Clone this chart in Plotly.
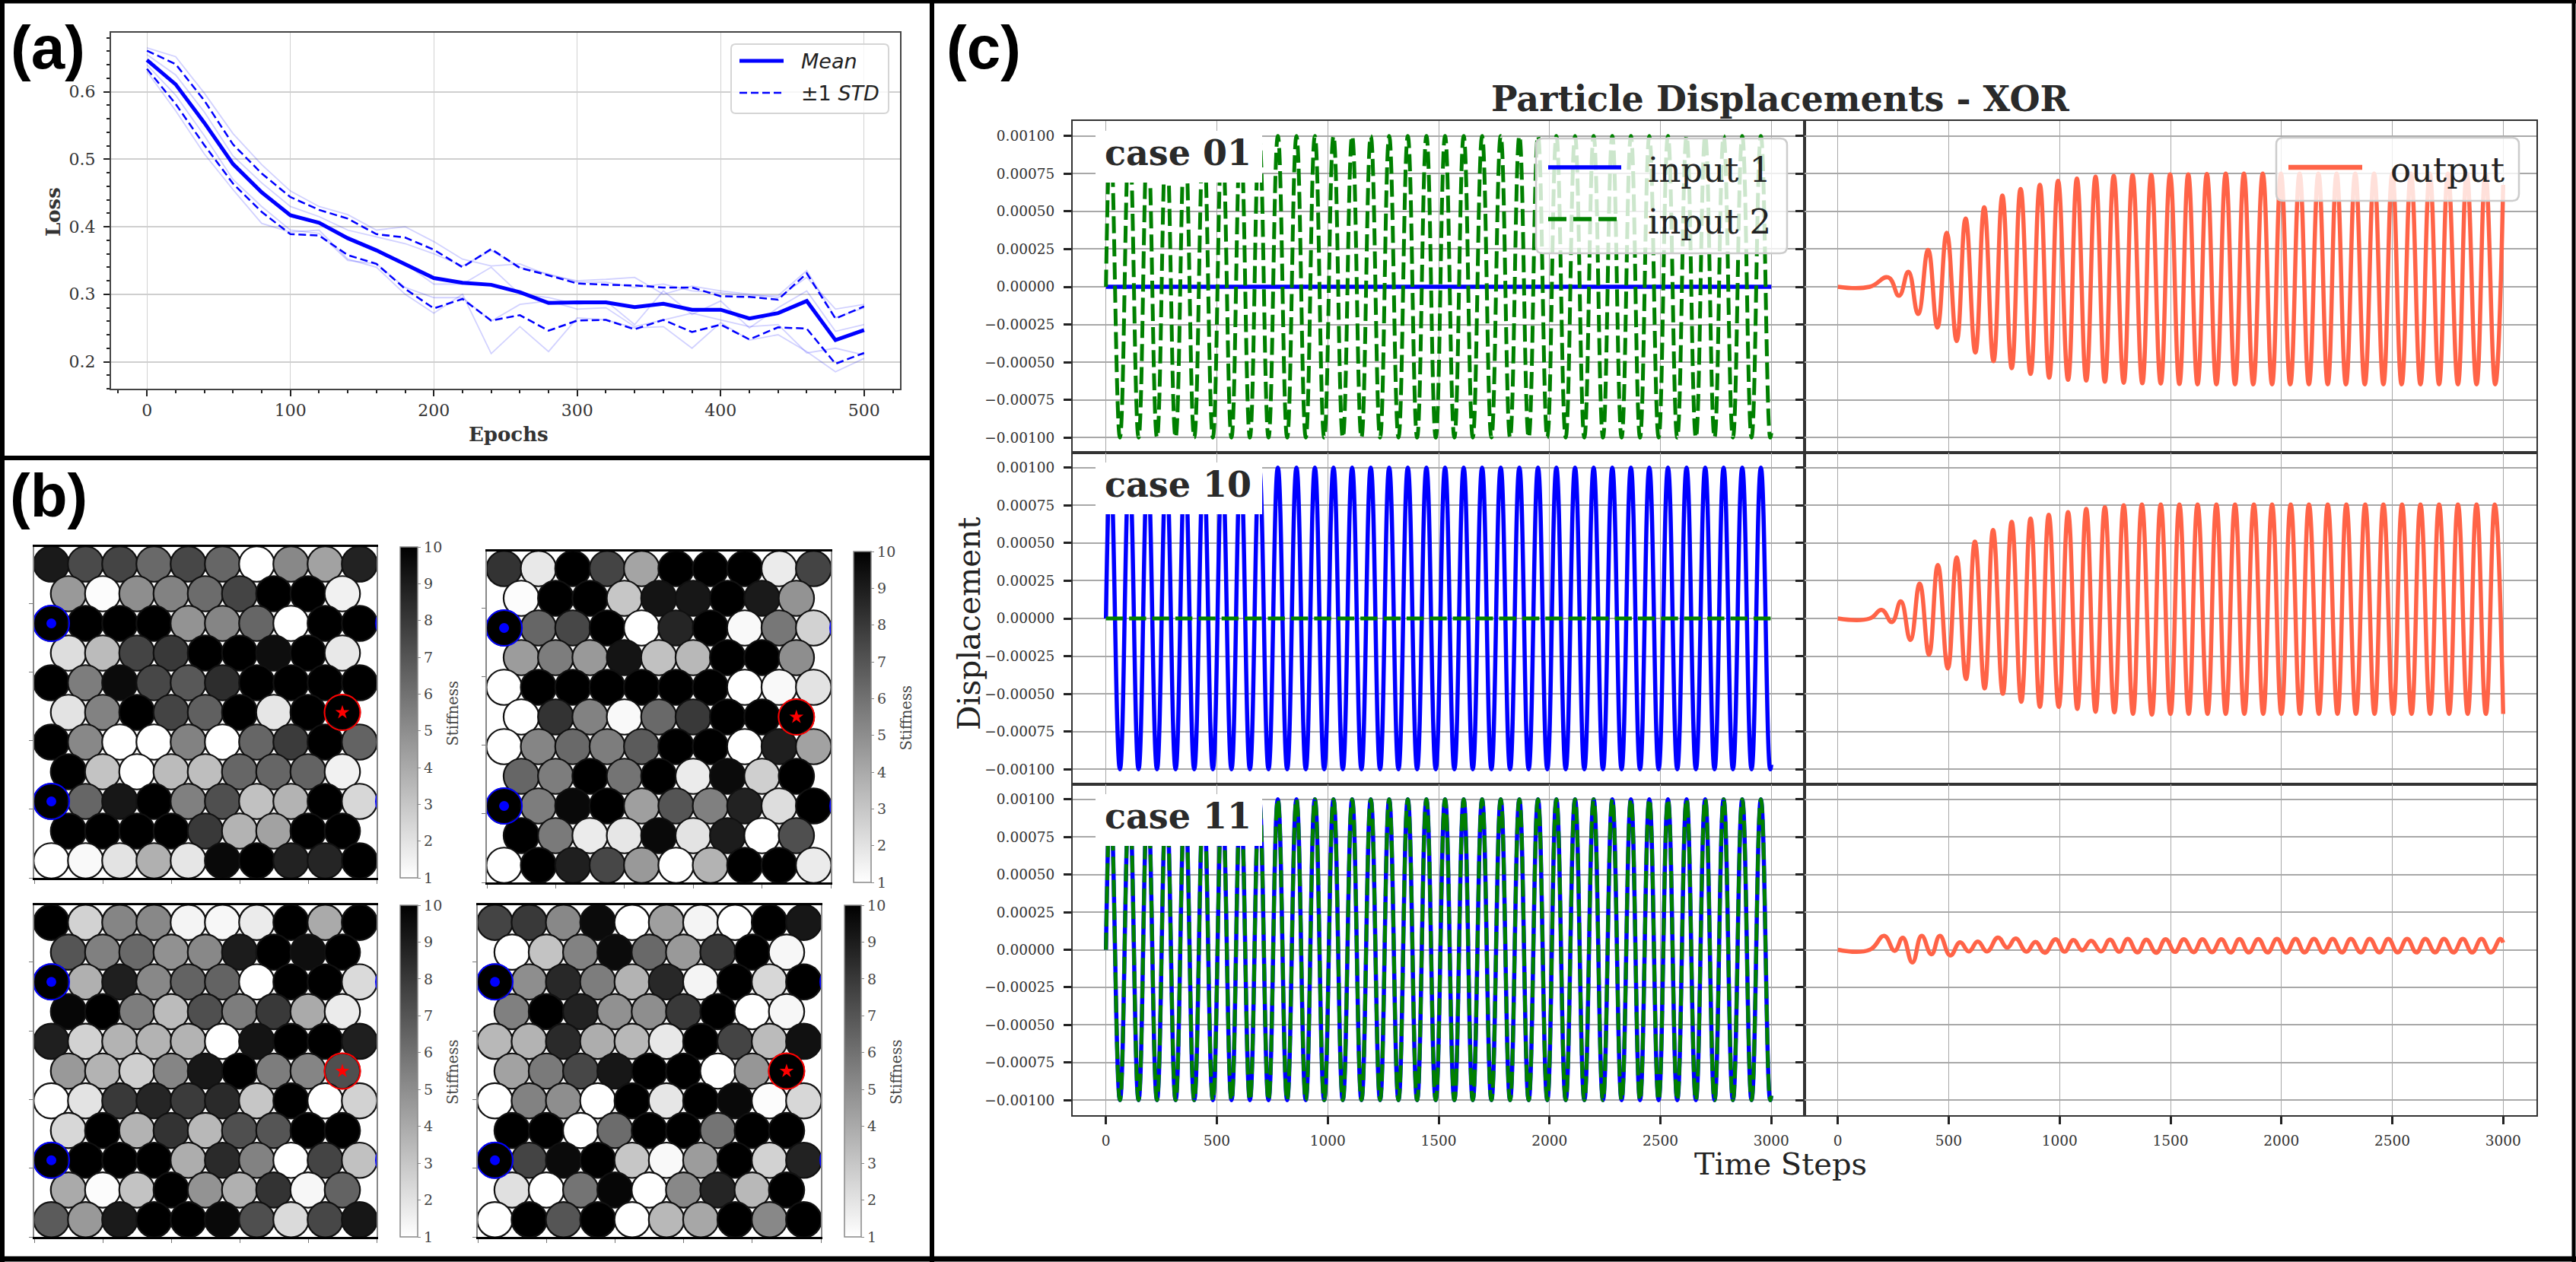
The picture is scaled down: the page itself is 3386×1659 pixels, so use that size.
import plotly.graph_objects as go

W, H = 3386, 1659
SERIF = "DejaVu Serif"

# ---------- panel (a): training loss ----------
epochs = [0, 20, 40, 60, 80, 100, 120, 140, 160, 180, 200, 220, 240, 260, 280, 300, 320, 340, 360, 380, 400, 420, 440, 460, 480, 500]
loss_mean = [.647, .611, .554, .493, .451, .417, .406, .383, .365, .344, .324, .317, .314, .303, .287, .288, .288, .281, .286, .277, .277, .264, .272, .290, .232, .247]
loss_upper = [.661, .641, .587, .522, .479, .444, .425, .412, .389, .384, .366, .340, .367, .339, .328, .316, .314, .313, .310, .310, .297, .296, .292, .331, .264, .282]
loss_lower = [.634, .582, .521, .464, .422, .389, .387, .358, .345, .308, .279, .293, .261, .269, .246, .261, .262, .248, .262, .244, .255, .233, .251, .249, .197, .213]
run_1 = [.665, .652, .598, .538, .492, .453, .430, .418, .395, .400, .378, .352, .342, .345, .328, .320, .322, .325, .300, .312, .305, .300, .295, .325, .278, .285]
run_2 = [.655, .625, .570, .505, .465, .430, .415, .395, .385, .375, .360, .342, .365, .340, .330, .318, .318, .310, .315, .305, .302, .298, .298, .335, .265, .280]
run_3 = [.648, .610, .555, .490, .450, .415, .405, .385, .365, .345, .315, .315, .340, .300, .295, .285, .290, .255, .305, .270, .290, .250, .280, .305, .245, .255]
run_4 = [.640, .595, .535, .470, .430, .395, .390, .350, .345, .310, .295, .295, .260, .285, .290, .278, .280, .252, .262, .272, .262, .252, .255, .213, .220, .210]
run_5 = [.630, .572, .508, .455, .405, .392, .395, .352, .340, .300, .272, .300, .212, .252, .215, .265, .262, .250, .252, .220, .258, .232, .240, .215, .185, .205]

# ---------- panel (b): stiffness per particle, row by row from the top ----------
stiffness_1 = [
    [9.1, 7.4, 7.6, 6.3, 7.5, 6.4, 1, 5.2, 4.3, 8.8],
    [4.6, 1.1, 5.0, 5.4, 6.2, 7.6, 10, 10, 1.5],
    [10, 10, 10, 10, 4.8, 5.3, 6.4, 1, 10, 10],
    [2.2, 3.4, 7.6, 8.0, 10, 10, 9.5, 10, 1.8],
    [10, 5.6, 9.6, 7.5, 6.9, 8.4, 10, 10, 10, 10],
    [2.0, 5.4, 10, 7.6, 6.6, 10, 1.9, 10, 10],
    [10, 5.2, 1, 1, 5.4, 1, 6.4, 7.9, 10, 6.5],
    [10, 3.1, 1, 3.4, 3.3, 6.4, 6.4, 6.5, 1.5],
    [10, 6.4, 9.2, 10, 5.5, 7.2, 3.2, 3.7, 10, 2.4],
    [10, 10, 10, 10, 8, 3.7, 4.3, 10, 10],
    [1, 1.2, 2.0, 3.8, 1.9, 9.7, 10, 8.8, 8.7, 10],
]
stiffness_2 = [
    [8.2, 1.8, 10, 7.6, 4.2, 10, 10, 10, 1.7, 7.6],
    [1.1, 10, 10, 3.0, 9.3, 9.2, 10, 9.1, 4.8],
    [10, 6.4, 7.5, 10, 1, 8.7, 10, 1.2, 5.8, 2.6],
    [4.5, 5.6, 4.6, 9.3, 3.2, 3.5, 10, 10, 5.0],
    [1, 10, 10, 10, 10, 10, 10, 1, 1.2, 2.0],
    [1, 8.2, 5.4, 1.2, 6.3, 8, 10, 10, 10],
    [1, 5.3, 6.3, 5.6, 6.8, 10, 10, 1, 8.9, 4.3],
    [6.4, 5.6, 10, 5.9, 10, 1.7, 9.6, 2.7, 10],
    [10, 5.6, 9.7, 10, 4.4, 7, 5.5, 8.8, 2.2, 10],
    [10, 5.7, 1.7, 1.9, 9.7, 2, 9, 1, 7.2],
    [1, 10, 8.9, 7.5, 4.6, 1, 3.7, 10, 10, 1.7],
]
stiffness_3 = [
    [10, 2.6, 5.3, 5.2, 1.4, 1.3, 1.7, 10, 4, 10],
    [7.0, 5.5, 6.3, 4.9, 5.2, 9, 10, 9.5, 10],
    [10, 3.8, 8.9, 5.2, 6.5, 6.5, 1, 10, 10, 2.3],
    [9.8, 10, 5.6, 3.4, 7.2, 5.6, 8, 4, 1.7],
    [8.9, 2.6, 3.7, 3.7, 3.7, 1, 9.3, 10, 10, 8.9],
    [4.6, 3.7, 2.7, 5.3, 9.2, 10, 5.6, 5.3, 7.2],
    [1, 2.0, 8, 8.7, 7.9, 8.5, 3, 10, 1, 2.6],
    [2.4, 10, 3.7, 8.2, 3.5, 7.2, 7, 10, 10],
    [10, 10, 10, 10, 3.9, 8.5, 5.4, 1, 7.6, 3.2],
    [4, 1.1, 3.1, 10, 4.8, 3.8, 8.2, 1.3, 6.5],
    [6.8, 4.6, 9.1, 10, 10, 9.7, 7.2, 2.3, 7.5, 9.2],
]
stiffness_4 = [
    [7.6, 8, 5.2, 9.6, 1, 4.4, 1.4, 1, 10, 9.2],
    [1, 3.1, 5.4, 9.6, 6.3, 4.6, 8, 10, 1.3],
    [10, 5, 8.6, 5.6, 3.7, 8.6, 1.4, 10, 2.4, 10],
    [5.5, 10, 8.8, 4.9, 5, 8, 10, 1, 1.3],
    [3.5, 3.7, 8.5, 3.9, 3.5, 1.8, 10, 7.6, 3.4, 9.4],
    [4.3, 5.7, 7.5, 9.2, 10, 10, 1, 4.7, 10],
    [1, 5.4, 5, 1, 10, 1.9, 10, 9.7, 1.1, 2.4],
    [10, 10, 1, 6.2, 10, 10, 5.9, 10, 10],
    [10, 7.6, 9.6, 10, 3, 1.2, 4.5, 10, 2.6, 8.8],
    [2.1, 1, 5.9, 9.8, 1, 5.2, 8.7, 3.5, 10],
    [1, 10, 7, 10, 1, 3.5, 4.1, 10, 5.2, 10],
]
colorbar_ticks = [1, 2, 3, 4, 5, 6, 7, 8, 9, 10]

# ---------- panel (c): extrema of the displacement curves ----------
t_input = [0, 21, 63, 105, 147, 188, 230, 272, 314, 356, 398, 440, 482, 524, 566, 607, 649, 691, 733, 775, 817, 859, 901, 942, 984,
           1026, 1068, 1110, 1152, 1194, 1236, 1277, 1319, 1361, 1403, 1445, 1487, 1529, 1571, 1613, 1654, 1696, 1738, 1780, 1822,
           1864, 1906, 1948, 1990, 2031, 2073, 2115, 2157, 2199, 2241, 2283, 2325, 2367, 2408, 2450, 2492, 2534, 2576, 2618, 2660,
           2702, 2744, 2785, 2827, 2869, 2911, 2953, 2995, 3000]
u_input = [0, .001, -.001, .001, -.001, .001, -.001, .001, -.001, .001, -.001, .001, -.001, .001, -.001, .001, -.001, .001, -.001,
           .001, -.001, .001, -.001, .001, -.001, .001, -.001, .001, -.001, .001, -.001, .001, -.001, .001, -.001, .001, -.001,
           .001, -.001, .001, -.001, .001, -.001, .001, -.001, .001, -.001, .001, -.001, .001, -.001, .001, -.001, .001, -.001,
           .001, -.001, .001, -.001, .001, -.001, .001, -.001, .001, -.001, .001, -.001, .001, -.001, .001, -.001, .001, -.001, -.00097]
t_flat = [0, 3000]
u_flat = [0, 0]

t_out_01 = [0, 144, 227, 276, 318, 362, 407, 449, 491, 536, 576, 620, 660, 702, 742, 784, 824, 869, 911, 953, 993, 1038, 1078, 1120, 1162,
            1204, 1244, 1289, 1329, 1373, 1413, 1456, 1498, 1540, 1580, 1622, 1664, 1707, 1749, 1791, 1831, 1873, 1916, 1958, 1998, 2040,
            2082, 2124, 2167, 2209, 2249, 2291, 2333, 2376, 2418, 2460, 2500, 2542, 2584, 2627, 2669, 2711, 2751, 2796, 2836, 2880, 2920, 2964, 3000]
u_out_01 = [0, 0, 6.25e-5, -5.9e-5, 1.0e-4, -1.8e-4, 2.45e-4, -2.7e-4, 3.58e-4, -3.6e-4, 4.53e-4, -4.36e-4, 5.27e-4, -4.93e-4, 6.05e-4,
            -5.4e-4, 6.49e-4, -5.78e-4, 6.76e-4, -6.03e-4, 7.03e-4, -6.17e-4, 7.18e-4, -6.22e-4, 7.3e-4, -6.3e-4, 7.35e-4, -6.37e-4, 7.4e-4,
            -6.4e-4, 7.43e-4, -6.42e-4, 7.45e-4, -6.45e-4, 7.46e-4, -6.47e-4, 7.48e-4, -6.47e-4, 7.5e-4, -6.47e-4, 7.5e-4, -6.47e-4, 7.5e-4,
            -6.47e-4, 7.5e-4, -6.47e-4, 7.5e-4, -6.47e-4, 7.5e-4, -6.47e-4, 7.5e-4, -6.47e-4, 7.5e-4, -6.47e-4, 7.5e-4, -6.47e-4, 7.5e-4,
            -6.47e-4, 7.5e-4, -6.47e-4, 7.5e-4, -6.47e-4, 7.5e-4, -6.47e-4, 7.5e-4, -6.47e-4, 7.5e-4, -6.47e-4, 6.76e-4]

t_out_10 = [0, 144, 198, 244, 284, 327, 369, 411, 451, 496, 536, 578, 618, 662, 700, 744, 784, 827, 869, 911, 951, 996, 1038, 1080, 1120,
            1162, 1204, 1247, 1289, 1331, 1371, 1416, 1456, 1500, 1540, 1582, 1622, 1667, 1707, 1749, 1791, 1833, 1876, 1918, 1958, 2000,
            2042, 2084, 2124, 2169, 2209, 2253, 2293, 2336, 2378, 2420, 2460, 2504, 2544, 2587, 2627, 2671, 2711, 2756, 2796, 2840, 2880, 2922, 2962, 3000]
u_out_10 = [0, 0, 5.7e-5, -2.4e-5, 1.13e-4, -1.43e-4, 2.31e-4, -2.4e-4, 3.54e-4, -3.32e-4, 4.05e-4, -4.02e-4, 5.1e-4, -4.64e-4, 5.87e-4,
            -5.0e-4, 6.41e-4, -5.52e-4, 6.62e-4, -5.86e-4, 6.87e-4, -5.86e-4, 7.05e-4, -6.0e-4, 7.26e-4, -6.19e-4, 7.38e-4, -6.23e-4, 7.51e-4,
            -6.33e-4, 7.56e-4, -6.38e-4, 7.56e-4, -6.33e-4, 7.56e-4, -6.33e-4, 7.56e-4, -6.33e-4, 7.56e-4, -6.33e-4, 7.56e-4, -6.33e-4, 7.56e-4,
            -6.33e-4, 7.56e-4, -6.33e-4, 7.56e-4, -6.33e-4, 7.56e-4, -6.33e-4, 7.56e-4, -6.33e-4, 7.56e-4, -6.33e-4, 7.56e-4, -6.33e-4, 7.56e-4,
            -6.33e-4, 7.56e-4, -6.33e-4, 7.56e-4, -6.33e-4, 7.56e-4, -6.33e-4, 7.56e-4, -6.33e-4, 7.56e-4, -6.33e-4, 7.56e-4, -6.33e-4, 7.56e-4, -5.3e-4]

t_out_11 = [0, 144, 209, 256, 293, 336, 378, 422, 460, 507, 551, 591, 631, 673, 722, 764, 802, 851, 891, 933, 982, 1022, 1062, 1102, 1142,
            1187, 1227, 1269, 1307, 1351, 1391, 1436, 1478, 1520, 1560, 1604, 1644, 1687, 1729, 1771, 1811, 1853, 1896, 1938, 1980, 2022,
            2064, 2104, 2147, 2189, 2231, 2273, 2313, 2358, 2398, 2442, 2482, 2524, 2567, 2609, 2649, 2693, 2733, 2776, 2818, 2860, 2902, 2944, 2987, 3000]
u_out_11 = [0, 0, 9.2e-5, -.7e-5, 8e-5, -8.5e-5, 9.2e-5, -3e-5, 9.2e-5, -3.8e-5, 4.9e-5, -1.1e-5, 5.4e-5, -1.1e-5, 8.1e-5, 1.4e-5, 7.4e-5,
            -1.3e-5, 5.2e-5, -2e-5, 7e-5, -1.3e-5, 6.5e-5, -.4e-5, 6e-5, -1.1e-5, 6.7e-5, -1.3e-5, 7.2e-5, -1.8e-5, 6.7e-5, -2e-5, 7e-5,
            -1.4e-5, 6.9e-5, -1.6e-5, 6.9e-5, -1.6e-5, 6.9e-5, -1.8e-5, 7.1e-5, -1.8e-5, 7.1e-5, -1.8e-5, 7.2e-5, -1.8e-5, 7.2e-5, -1.8e-5,
            7.2e-5, -1.8e-5, 7.2e-5, -1.8e-5, 7.2e-5, -1.8e-5, 7.2e-5, -1.8e-5, 7.2e-5, -1.8e-5, 7.2e-5, -1.8e-5, 7.2e-5, -1.8e-5, 7.2e-5,
            -1.8e-5, 7.2e-5, -1.8e-5, 7.2e-5, -1.8e-5, 7.2e-5, 4.7e-5]

y_ticks_c = [-.001, -.00075, -.0005, -.00025, 0, .00025, .0005, .00075, .001]
x_ticks_c = [0, 500, 1000, 1500, 2000, 2500, 3000]


def px(x):
    return x / W


def py(y):
    return 1 - y / H


layout = dict(
    width=W, height=H, paper_bgcolor="white", plot_bgcolor="white", showlegend=False,
    margin=dict(l=0, r=0, t=0, b=0, pad=0, autoexpand=False),
    font=dict(family=SERIF, color="#333333"),
)
traces, shapes, annots = [], [], []


def set_axes(n, box, xa, ya):
    x0, x1, y0, y1 = box
    layout[f"xaxis{n}"] = dict(domain=[px(x0), px(x1)], anchor=f"y{n}", zeroline=False, mirror=True, layer="below traces", **xa)
    layout[f"yaxis{n}"] = dict(domain=[py(y1), py(y0)], anchor=f"x{n}", zeroline=False, mirror=True, layer="below traces", **ya)


def text(x, y, s, size, color="#333333", family=SERIF, weight="normal", xanchor="center", yanchor="middle", angle=0, style="normal"):
    annots.append(dict(xref="paper", yref="paper", x=px(x), y=py(y), text=s, showarrow=False, xanchor=xanchor, yanchor=yanchor,
                       textangle=angle, borderpad=0, font=dict(size=size, color=color, family=family, weight=weight, style=style)))


def line_shape(x0, y0, x1, y1, color, width, dash="solid"):
    shapes.append(dict(type="line", xref="paper", yref="paper", x0=px(x0), y0=py(y0), x1=px(x1), y1=py(y1),
                       line=dict(color=color, width=width, dash=dash), layer="above"))


def rounded_box(x0, y0, x1, y1, r=8, edge="#cccccc", width=2.5):
    path = (f"M {px(x0 + r)},{py(y0)} L {px(x1 - r)},{py(y0)} Q {px(x1)},{py(y0)} {px(x1)},{py(y0 + r)} "
            f"L {px(x1)},{py(y1 - r)} Q {px(x1)},{py(y1)} {px(x1 - r)},{py(y1)} L {px(x0 + r)},{py(y1)} "
            f"Q {px(x0)},{py(y1)} {px(x0)},{py(y1 - r)} L {px(x0)},{py(y0 + r)} Q {px(x0)},{py(y0)} {px(x0 + r)},{py(y0)} Z")
    shapes.append(dict(type="path", xref="paper", yref="paper", path=path, fillcolor="rgba(255,255,255,0.8)",
                       line=dict(color=edge, width=width), layer="above"))


# ---------- panel (a) ----------
SPINE = "#444444"
set_axes(1, (146, 1183, 43, 511),
         dict(range=[-25, 525], tickvals=[0, 100, 200, 300, 400, 500], ticks="outside", ticklen=8, tickwidth=2, tickcolor="#222222",
              linecolor=SPINE, linewidth=2, showgrid=True, gridcolor="#d2d2d2", gridwidth=1.2,
              tickfont=dict(size=22, color="#333333", family=SERIF),
              minor=dict(dtick=20, tick0=0, ticks="outside", ticklen=4, tickwidth=1.5, tickcolor="#222222", showgrid=False)),
         dict(range=[0.16, 0.6875], tickvals=[.2, .3, .4, .5, .6], tickformat=".1f", ticks="outside", ticklen=8, tickwidth=2, tickcolor="#222222",
              linecolor=SPINE, linewidth=2, showgrid=True, gridcolor="#cfcfcf", gridwidth=1.5,
              tickfont=dict(size=22, color="#333333", family=SERIF), ticklabelstandoff=6,
              minor=dict(dtick=.02, tick0=0, ticks="outside", ticklen=4, tickwidth=1.5, tickcolor="#222222", showgrid=False)))
for i, run in enumerate([run_1, run_2, run_3, run_4, run_5]):
    traces.append(go.Scatter(x=epochs, y=run, mode="lines", name=f"run {i + 1}", xaxis="x1", yaxis="y1",
                             line=dict(color="rgba(0,0,255,0.18)", width=1.8)))
traces.append(go.Scatter(x=epochs, y=loss_mean, mode="lines", name="Mean", xaxis="x1", yaxis="y1", line=dict(color="blue", width=5)))
traces.append(go.Scatter(x=epochs, y=loss_upper, mode="lines", name="+1 STD", xaxis="x1", yaxis="y1",
                         line=dict(color="blue", width=2.5, dash="10px,5px")))
traces.append(go.Scatter(x=epochs, y=loss_lower, mode="lines", name="-1 STD", xaxis="x1", yaxis="y1",
                         line=dict(color="blue", width=2.5, dash="10px,5px")))
text(70, 279, "Loss", 26, weight="bold", angle=-90)
text(668, 571, "Epochs", 26, weight="bold")
rounded_box(961, 58, 1168, 149, r=6, edge="#d5d5d5", width=2)
line_shape(972, 80, 1030, 80, "blue", 5)
line_shape(972, 122, 1030, 122, "blue", 2.5, "10px,5px")
text(1052, 80, "Mean", 27, family="DejaVu Sans", style="italic", xanchor="left", color="#222222")
text(1052, 122, "±1 <i>STD</i>", 27, family="DejaVu Sans", xanchor="left", color="#222222")

# ---------- panel (b) ----------
boxes_b = [(45, 495, 719, 1154), (640, 1092, 725, 1160), (45, 495, 1190, 1626), (628, 1079, 1190, 1626)]
colorbars_b = [(526, 23), (1122, 23), (526, 23), (1110, 22)]
stiffness_label_x = [595, 1191, 595, 1178]
for k, (vals, box, cb, lx) in enumerate(zip([stiffness_1, stiffness_2, stiffness_3, stiffness_4], boxes_b, colorbars_b, stiffness_label_x)):
    n = k + 2
    x0, x1, y0, y1 = box
    set_axes(n, (x0, x1, y0, y1),
             dict(range=[0, 10], tickvals=[0, 2, 4, 6, 8, 10], ticks="outside", ticklen=5, tickwidth=1.2, tickcolor="#777777",
                  showticklabels=False, showgrid=False, linecolor="black", linewidth=3),
             dict(range=[0, 9.66], tickvals=[0, 2, 4, 6, 8], ticks="outside", ticklen=5, tickwidth=1.2, tickcolor="#777777",
                  showticklabels=False, showgrid=False, linecolor="#888888", linewidth=1.5))
    xs, ys, cs = [], [], []
    for r, row in enumerate(vals):
        for i, v in enumerate(row):
            xs.append(0.5 + i if len(row) == 10 else 1.0 + i)
            ys.append(0.5 + (10 - r) * 0.866)
            cs.append(v)
    traces.append(go.Scatter(
        x=xs, y=ys, mode="markers", name="particles", xaxis=f"x{n}", yaxis=f"y{n}",
        marker=dict(symbol="circle", size=46.5, color=cs, cmin=1, cmax=10, colorscale=[[0, "white"], [1, "black"]],
                    line=dict(color="#111111", width=2.2),
                    colorbar=dict(x=px(cb[0]), xanchor="left", y=py(y1), yanchor="bottom", len=(y1 - y0) / H, lenmode="fraction",
                                  thickness=cb[1], thicknessmode="pixels", xpad=0, ypad=0, outlinecolor="#888888", outlinewidth=1.5,
                                  ticks="outside", ticklen=4, tickwidth=1.2, tickcolor="#888888", tickvals=colorbar_ticks,
                                  tickfont=dict(size=19, color="#444444", family=SERIF)))))
    text(lx, (y0 + y1) / 2 + 2, "Stiffness", 19.5, color="#444444", angle=-90)
    # input and output particle markers
    y_in = [0.5 + 8 * 0.866, 0.5 + 2 * 0.866]
    traces.append(go.Scatter(x=[0.5, 0.5, 10.5, 10.5], y=y_in + y_in, mode="markers", name="input ring", xaxis=f"x{n}", yaxis=f"y{n}",
                             marker=dict(size=47, color="rgba(0,0,0,0)", line=dict(color="blue", width=2))))
    traces.append(go.Scatter(x=[0.5, 0.5], y=y_in, mode="markers", name="input", xaxis=f"x{n}", yaxis=f"y{n}",
                             marker=dict(size=13, color="blue")))
    traces.append(go.Scatter(x=[9.0], y=[0.5 + 5 * 0.866], mode="markers", name="output ring", xaxis=f"x{n}", yaxis=f"y{n}",
                             marker=dict(size=47, color="rgba(0,0,0,0)", line=dict(color="red", width=2))))
    traces.append(go.Scatter(x=[9.0], y=[0.5 + 5 * 0.866], mode="markers", name="output", xaxis=f"x{n}", yaxis=f"y{n}",
                             marker=dict(size=14, color="red", symbol="star")))

# ---------- panel (c) ----------
GRID_C = "#a8a8a8"
rows_y = [(159, 595), (595, 1031), (1031, 1466)]
cols_x = [(1410, 2372), (2372, 3334)]
cases = ["case 01", "case 10", "case 11"]
inputs = [((t_flat, u_flat), (t_input, u_input)), ((t_input, u_input), (t_flat, u_flat)), ((t_input, u_input), (t_input, u_input))]
outputs = [(t_out_01, u_out_01), (t_out_10, u_out_10), (t_out_11, u_out_11)]
n = 6
for r, (y0, y1) in enumerate(rows_y):
    for c, (x0, x1) in enumerate(cols_x):
        bottom = r == 2
        set_axes(n, (x0, x1, y0, y1),
                 dict(range=[-150, 3150], tickvals=x_ticks_c, showticklabels=bottom, ticks="outside" if bottom else "",
                      ticklen=10, tickwidth=2.5, tickcolor="#222222", linecolor="#333333", linewidth=2, showgrid=True,
                      gridcolor=GRID_C, gridwidth=1.3, tickfont=dict(size=18.5, color="#333333", family=SERIF), ticklabelstandoff=6),
                 dict(range=[-.0011, .0011], tickvals=y_ticks_c, tickformat=".5f", showticklabels=c == 0, ticks="outside",
                      ticklen=10, tickwidth=2.5, tickcolor="#222222", linecolor="#333333", linewidth=2, showgrid=True,
                      gridcolor=GRID_C, gridwidth=1.6, tickfont=dict(size=18.5, color="#333333", family=SERIF), ticklabelstandoff=8))
        if c == 0:
            (t1, u1), (t2, u2) = inputs[r]
            traces.append(go.Scatter(x=t1, y=u1, mode="lines", name="input 1", xaxis=f"x{n}", yaxis=f"y{n}",
                                     line=dict(color="blue", width=5.5, shape="spline", smoothing=1.3)))
            traces.append(go.Scatter(x=t2, y=u2, mode="lines", name="input 2", xaxis=f"x{n}", yaxis=f"y{n}",
                                     line=dict(color="green", width=5, shape="spline", smoothing=1.3, dash="22.4px,8px")))
        else:
            t3, u3 = outputs[r]
            traces.append(go.Scatter(x=t3, y=u3, mode="lines", name="output", xaxis=f"x{n}", yaxis=f"y{n}",
                                     line=dict(color="tomato", width=5.5, shape="spline", smoothing=1.3)))
        n += 1
    # case label on a white patch
    shapes.append(dict(type="rect", xref="paper", yref="paper", x0=px(1440), x1=px(1659), y0=py(y0 + 13), y1=py(y0 + 81),
                       fillcolor="white", line=dict(width=0), layer="above"))
    text(1548, y0 + 42, cases[r], 46, weight="bold", color="#2a2a2a")

rounded_box(2019, 182, 2349, 333, r=9)
line_shape(2035, 220, 2131, 220, "blue", 5.5)
line_shape(2035, 288, 2131, 288, "green", 5.5, "24px,9px")
text(2165, 223, "input 1", 45, xanchor="left", color="#222222")
text(2165, 291, "input 2", 45, xanchor="left", color="#222222")
rounded_box(2992, 181, 3311, 264, r=9)
line_shape(3008, 220, 3105, 220, "tomato", 6.5)
text(3141, 223, "output", 45, xanchor="left", color="#222222")

text(2340, 130, "Particle Displacements - XOR", 46, weight="bold", color="#2a2a2a")
text(1274, 820, "Displacement", 40.5, angle=-90, color="#222222")
text(2340, 1530, "Time Steps", 40, color="#222222")

# ---------- panel letters and frames ----------
text(63, 62, "(a)", 80, family="Liberation Sans", weight="bold", color="black")
text(64, 651, "(b)", 80, family="Liberation Sans", weight="bold", color="black")
text(1293, 62, "(c)", 80, family="Liberation Sans", weight="bold", color="black")
for seg in [((0, 2), (3386, 2), 5), ((3, 0), (3, 1659), 6), ((0, 602), (1225, 602), 6), ((1225, 0), (1225, 1659), 6),
            ((0, 1655), (3386, 1655), 7), ((3383, 0), (3383, 1659), 5)]:
    line_shape(seg[0][0], seg[0][1], seg[1][0], seg[1][1], "black", seg[2])

layout["shapes"] = shapes
layout["annotations"] = annots
fig = go.Figure(data=traces, layout=layout)
fig.write_html("out.html", config=dict(displayModeBar=False),
               post_script="document.body.style.margin='0';document.body.style.overflow='hidden';")
